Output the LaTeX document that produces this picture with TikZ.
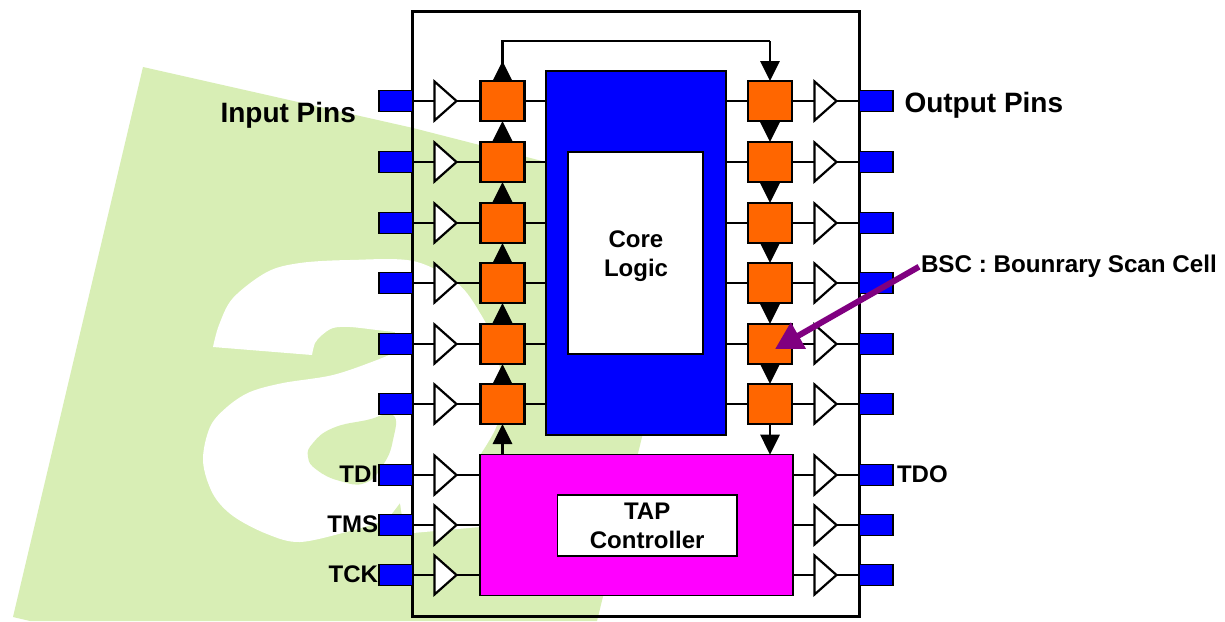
\documentclass[tikz,border=0pt]{standalone}
\usepackage{fontspec}
\setmainfont{Liberation Sans}
\usetikzlibrary{arrows.meta,shapes.geometric}
\definecolor{wm}{HTML}{D8EEB5}
\definecolor{cellorange}{HTML}{FF6600}
\definecolor{pinblue}{HTML}{0000FF}
\definecolor{tapmag}{HTML}{FF00FF}
\definecolor{bscpurple}{HTML}{800080}
\tikzset{
  box/.style={rectangle,inner sep=0pt,outer sep=0pt,draw=black},
  pin/.style={box,line width=1.1pt,fill=pinblue,minimum width=34pt,minimum height=20.5pt},
  cell/.style={box,line width=2.8pt,fill=cellorange,minimum width=44pt,minimum height=40pt},
  buf/.style={isosceles triangle,isosceles triangle stretches,shape border rotate=0,draw=black,fill=white,
    line width=2.2pt,inner sep=0pt,outer sep=0pt,minimum width=39pt,minimum height=22pt,anchor=lower side},
  wire/.style={line width=2.5pt,black},
  scan/.style={line width=2.8pt,black},
  bigtip/.tip={Triangle[width=19pt,length=20pt]},
  uptip/.tip={Triangle[reversed,width=19pt,length=20pt]},
  lab/.style={inner sep=0pt,outer sep=0pt,font=\fontsize{24}{29}\selectfont\bfseries},
  biglab/.style={inner sep=0pt,outer sep=0pt,font=\fontsize{28}{32}\selectfont\bfseries},
}
\begin{document}
\begin{tikzpicture}[x=1pt,y=-1pt]
\useasboundingbox (0,0) rectangle (1225,621);
\fill[white] (0,0) rectangle (1225,621);
% watermark
\fill[wm] (143,67) -- (413,128) -- (546,162) -- (700,200) -- (597,621) -- (30,621) -- (13,617) -- cycle;
\fill[white] plot[smooth,tension=.55] coordinates {(213,347) (219,325) (233,298) (267,272) (300,263) (350,260) (413,261) (457,283) (480,313) (495,345) (502,390) (497,425) (480,455)}
  -- (480,527) -- (413,533) -- (404,530) -- (400,503) -- (387,520)
  -- plot[smooth,tension=.55] coordinates {(387,520) (350,531) (300,542) (267,534) (233,516) (213,494) (203,461) (210,427) (227,407) (250,392) (283,383) (333,375) (377,360) (395,352)}
  -- (395,332)
  -- plot[smooth,tension=.55] coordinates {(395,332) (377,330) (350,327) (333,328) (322,335) (315,343) (312,355)}
  -- cycle;
\fill[wm] plot[smooth cycle,tension=.8] coordinates {(393,415) (367,420) (333,428) (313,443) (308,457) (317,470) (340,481) (365,483) (383,465) (393,440)};
% chip
\node[box,line width=3pt,minimum width=446.5pt,minimum height=605pt] (chip) at (636,313.5) {};
% core and TAP
\node[box,line width=1.2pt,fill=pinblue,minimum width=180pt,minimum height=364pt] (core) at (636,253) {};
\node[box,line width=1.2pt,fill=white,minimum width=135pt,minimum height=202pt] (logic) at (635.5,253) {};
\node[lab,align=center] (logictext) at (636,256.5) {Core\\Logic};
\node[box,line width=1.4pt,fill=tapmag,minimum width=313pt,minimum height=141pt] (tap) at (636.5,525.2) {};
\node[box,line width=1.2pt,fill=white,minimum width=179.5pt,minimum height=61pt,align=center,lab] (tapc) at (647.2,525.5) {TAP\\Controller};
% rows with boundary scan cells
\foreach \i/\y in {1/101,2/162,3/223,4/283,5/344,6/404}{
  \node[pin] (LP\i) at (396,\y) {};
  \node[pin] (RP\i) at (876,\y) {};
  \node[buf] (LB\i) at (434.5,\y) {};
  \node[buf] (RB\i) at (814.5,\y) {};
  \node[cell] (LC\i) at (502.5,\y) {};
  \node[cell] (RC\i) at (770,\y) {};
  \draw[wire] (LP\i.east) -- (LB\i.lower side);
  \draw[wire] (LB\i.apex) -- (LC\i.west);
  \draw[wire] (LC\i.east) -- (core.west |- LC\i.east);
  \draw[wire] (core.east |- RC\i.west) -- (RC\i.west);
  \draw[wire] (RC\i.east) -- (RB\i.lower side);
  \draw[wire] (RB\i.apex) -- (RP\i.west);
}
% rows on the TAP controller
\foreach \i/\y in {7/475,8/525,9/575}{
  \node[pin] (LP\i) at (396,\y) {};
  \node[pin] (RP\i) at (876,\y) {};
  \node[buf] (LB\i) at (434.5,\y) {};
  \node[buf] (RB\i) at (814.5,\y) {};
  \draw[wire] (LP\i.east) -- (LB\i.lower side);
  \draw[wire] (LB\i.apex) -- (tap.west |- LB\i.apex);
  \draw[wire] (tap.east |- RB\i.lower side) -- (RB\i.lower side);
  \draw[wire] (RB\i.apex) -- (RP\i.west);
}
% scan chain
\coordinate (lover) at (502.5,41);
\coordinate (rover) at (770,41);
\draw[scan,{uptip}-] (LC1.north) -- (lover) -- (rover);
\draw[scan,-{bigtip}] (rover) -- (RC1.north);
\foreach \a/\b in {1/2,2/3,3/4,4/5,5/6}{
  \draw[scan,-{bigtip}] (LC\b.north) -- (LC\a.south);
  \draw[scan,-{bigtip}] (RC\a.south) -- (RC\b.north);
}
\draw[scan,-{bigtip}] (tap.north -| LC6.south) -- (LC6.south);
\draw[scan,-{bigtip}] (RC6.south) -- (tap.north -| RC6.south);
% labels
\node[biglab,anchor=base west] (inlab) at (220.5,122) {Input Pins};
\node[biglab,anchor=base west] (outlab) at (904.5,112) {Output Pins};
\node[lab,anchor=base east] (tdi) at (378,482) {TDI};
\node[lab,anchor=base east] (tms) at (378,532) {TMS};
\node[lab,anchor=base east] (tck) at (378,582) {TCK};
\node[lab,anchor=base west] (tdo) at (897,482) {TDO};
\node[lab,anchor=base west,font=\fontsize{24.2}{29}\selectfont\bfseries] (bsc) at (921,272) {BSC : Bounrary Scan Cell};
% pointer
\coordinate (bsctip) at (775,349);
\draw[line width=6pt,bscpurple,-{Triangle[width=29pt,length=27pt]}] (bsc.west) ++(-2,1) -- (bsctip);
\end{tikzpicture}
\end{document}
